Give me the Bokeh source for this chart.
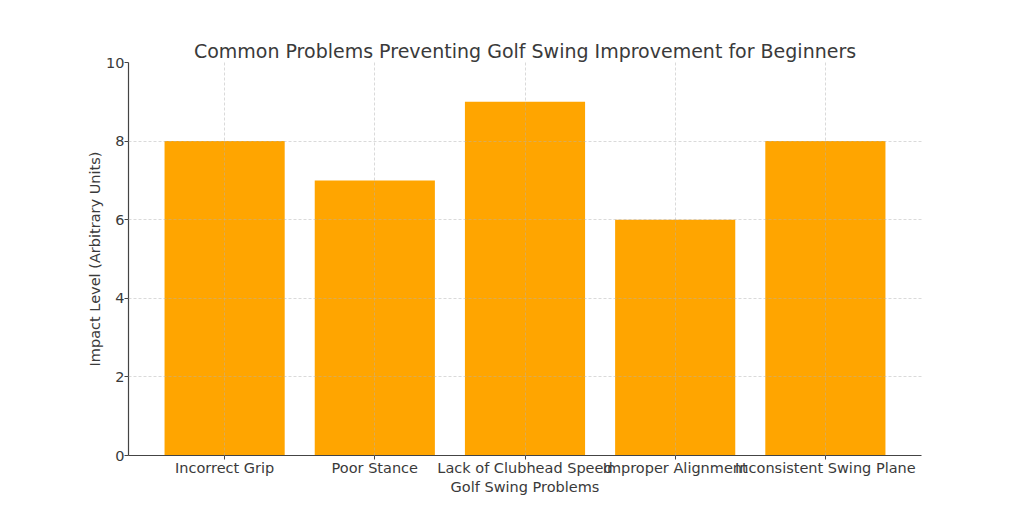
from bokeh.plotting import figure
from bokeh.models import Range1d, FixedTicker
from bokeh.embed import file_html
from bokeh.resources import INLINE

categories = ["Incorrect Grip", "Poor Stance", "Lack of Clubhead Speed", "Improper Alignment", "Inconsistent Swing Plane"]
impact = [8, 7, 9, 6, 8]
y_ticks = [0, 2, 4, 6, 8, 10]

xs = list(range(len(categories)))

p = figure(width=1016, height=504, output_backend="svg", toolbar_location=None,
           x_range=Range1d(-0.64, 4.64), y_range=Range1d(0, 10),
           title="Common Problems Preventing Golf Swing Improvement for Beginners",
           min_border_left=128, min_border_right=95, min_border_top=62, min_border_bottom=49)

p.vbar(x=xs, top=impact, width=0.8, bottom=0, fill_color="#FFA500", line_color=None)

font = "DejaVu Sans"
text_color = "#3a3a3a"
p.title.text_font = font
p.title.text_font_size = "19px"
p.title.text_font_style = "normal"
p.title.text_color = text_color
p.title.align = "center"
p.title.offset = 0
p.title.standoff = 2

p.outline_line_color = None
p.background_fill_color = "white"
p.border_fill_color = "white"

p.xaxis.ticker = FixedTicker(ticks=xs)
p.xaxis.major_label_overrides = {i: c for i, c in enumerate(categories)}
p.yaxis.ticker = FixedTicker(ticks=y_ticks)
p.xaxis.axis_label = "Golf Swing Problems"
p.yaxis.axis_label = "Impact Level (Arbitrary Units)"

for ax in (p.xaxis, p.yaxis):
    ax.axis_label_text_font = font
    ax.axis_label_text_font_size = "14.5px"
    ax.axis_label_text_font_style = "normal"
    ax.axis_label_text_color = text_color
    ax.major_label_text_font = font
    ax.major_label_text_font_size = "14.5px"
    ax.major_label_text_color = text_color
    ax.axis_line_color = "#444444"
    ax.axis_line_width = 1.2
    ax.major_tick_line_color = "#444444"
    ax.major_tick_out = 4
    ax.major_tick_in = 0
    ax.minor_tick_line_color = None
    ax.major_label_standoff = 0
    ax.axis_label_standoff = 0

for g in (p.xgrid, p.ygrid):
    g.grid_line_color = "#b0b0b0"
    g.grid_line_alpha = 0.6
    g.grid_line_dash = "3 2"
    g.grid_line_width = 0.8
    g.level = "annotation"
p.xgrid.ticker = FixedTicker(ticks=xs)
p.ygrid.ticker = FixedTicker(ticks=y_ticks)

open("out.html", "w").write(file_html(p, INLINE))
